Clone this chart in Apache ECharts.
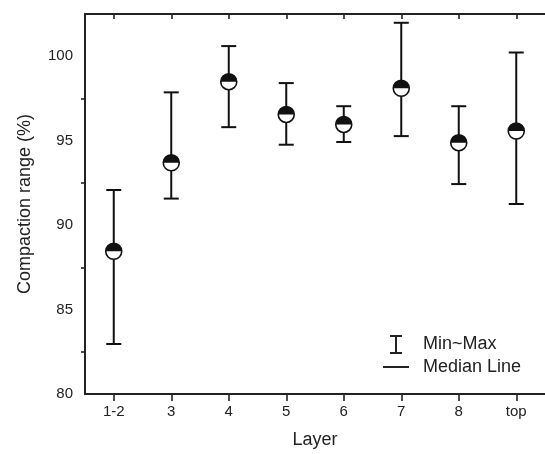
<!DOCTYPE html>
<html lang="en">
<head>
    <meta charset="UTF-8">
    <title>Compaction range</title>
    <script src="https://cdn.jsdelivr.net/npm/echarts@6/dist/echarts.min.js"></script>
    <style>
        html, body { margin: 0; padding: 0; background: #fff; }
    </style>
</head>
<body>
<div id="main" style="width: 545px;height:454px;"></div>

<script>
    // data
    var layers = ['1-2', '3', '4', '5', '6', '7', '8', 'top'];
    var minVals = [82.96, 91.57, 95.8, 94.76, 94.92, 95.27, 92.43, 91.25];
    var maxVals = [92.08, 97.86, 100.6, 98.41, 97.04, 101.98, 97.04, 100.22];
    var medianVals = [88.45, 93.69, 98.49, 96.55, 95.96, 98.1, 94.88, 95.57];

    var myChart = echarts.init(document.getElementById('main'));

    var seriesData = layers.map(function (name, i) {
        return [i, minVals[i], maxVals[i], medianVals[i]];
    });

    // error bar + half filled circle
    function renderItem(params, api) {
        var idx = api.value(0);
        var pLo = api.coord([idx, api.value(1)]);
        var pHi = api.coord([idx, api.value(2)]);
        var pMid = api.coord([idx, api.value(3)]);
        var cap = 7.5;
        var r = 8;
        var lineStyle = { stroke: '#111', lineWidth: 2 };
        return {
            type: 'group',
            children: [
                { type: 'line', shape: { x1: pLo[0], y1: pLo[1], x2: pHi[0], y2: pHi[1] }, style: lineStyle },
                { type: 'line', shape: { x1: pLo[0] - cap, y1: pLo[1], x2: pLo[0] + cap, y2: pLo[1] }, style: lineStyle },
                { type: 'line', shape: { x1: pHi[0] - cap, y1: pHi[1], x2: pHi[0] + cap, y2: pHi[1] }, style: lineStyle },
                { type: 'circle', shape: { cx: pMid[0], cy: pMid[1], r: r }, style: { fill: '#fff', stroke: 'none' } },
                { type: 'sector', shape: { cx: pMid[0], cy: pMid[1], r0: 0, r: r, startAngle: Math.PI, endAngle: Math.PI * 2, clockwise: true }, style: { fill: '#111' } },
                { type: 'circle', shape: { cx: pMid[0], cy: pMid[1], r: r }, style: { fill: 'none', stroke: '#111', lineWidth: 1.6 } }
            ]
        };
    }

    var option = {
        animation: false,
        grid: {
            left: 85,
            right: -9,
            top: 14,
            bottom: 57
        },
        xAxis: [{
            type: 'category',
            data: layers,
            name: 'Layer',
            nameLocation: 'middle',
            nameGap: 37,
            nameTextStyle: { fontSize: 18, color: '#222', fontFamily: 'Liberation Sans' },
            axisLine: { lineStyle: { color: '#222', width: 2 } },
            axisTick: { show: true, interval: 0, alignWithLabel: true, length: 7, lineStyle: { color: '#222', width: 1.6 } },
            axisLabel: { fontSize: 15, color: '#222', margin: 10, fontFamily: 'Liberation Sans' },
            splitLine: { show: false }
        }, {
            type: 'category',
            data: layers,
            position: 'top',
            axisLine: { lineStyle: { color: '#222', width: 2 } },
            axisTick: { show: true, interval: 0, alignWithLabel: true, inside: true, length: 5, lineStyle: { color: '#222', width: 1.6 } },
            axisLabel: { show: false, interval: 0 },
            splitLine: { show: false }
        }],
        yAxis: {
            type: 'value',
            min: 80,
            max: 102.5,
            interval: 5,
            name: 'Compaction range (%)',
            nameLocation: 'middle',
            nameGap: 51,
            nameTextStyle: { fontSize: 18, color: '#222', fontFamily: 'Liberation Sans' },
            axisLine: { show: true, lineStyle: { color: '#222', width: 2 } },
            axisTick: { length: 7, lineStyle: { color: '#222', width: 1.6 } },
            minorTick: { show: true, splitNumber: 2, length: 4, lineStyle: { color: '#222', width: 1.6 } },
            axisLabel: {
                fontSize: 15, color: '#222', margin: 12, fontFamily: 'Liberation Sans',
                formatter: function (v) { return v % 5 === 0 ? String(v) : ''; }
            },
            splitLine: { show: false }
        },
        series: [{
            type: 'custom',
            renderItem: renderItem,
            data: seriesData,
            encode: { x: 0, y: [1, 2, 3] },
            clip: false
        }],
        graphic: [
            // legend: I-beam symbol
            { type: 'line', shape: { x1: 396, y1: 336, x2: 396, y2: 353 }, style: { stroke: '#222', lineWidth: 2 } },
            { type: 'line', shape: { x1: 390, y1: 336, x2: 402, y2: 336 }, style: { stroke: '#222', lineWidth: 2 } },
            { type: 'line', shape: { x1: 390, y1: 353, x2: 402, y2: 353 }, style: { stroke: '#222', lineWidth: 2 } },
            { type: 'text', left: 423, top: 335, style: { text: 'Min~Max', fontSize: 18, fill: '#222', fontFamily: 'Liberation Sans' } },
            // legend: median line
            { type: 'line', shape: { x1: 383, y1: 367, x2: 409, y2: 367 }, style: { stroke: '#222', lineWidth: 2 } },
            { type: 'text', left: 423, top: 358, style: { text: 'Median Line', fontSize: 18, fill: '#222', fontFamily: 'Liberation Sans' } }
        ]
    };

    myChart.setOption(option);
</script>
</body>
</html>
